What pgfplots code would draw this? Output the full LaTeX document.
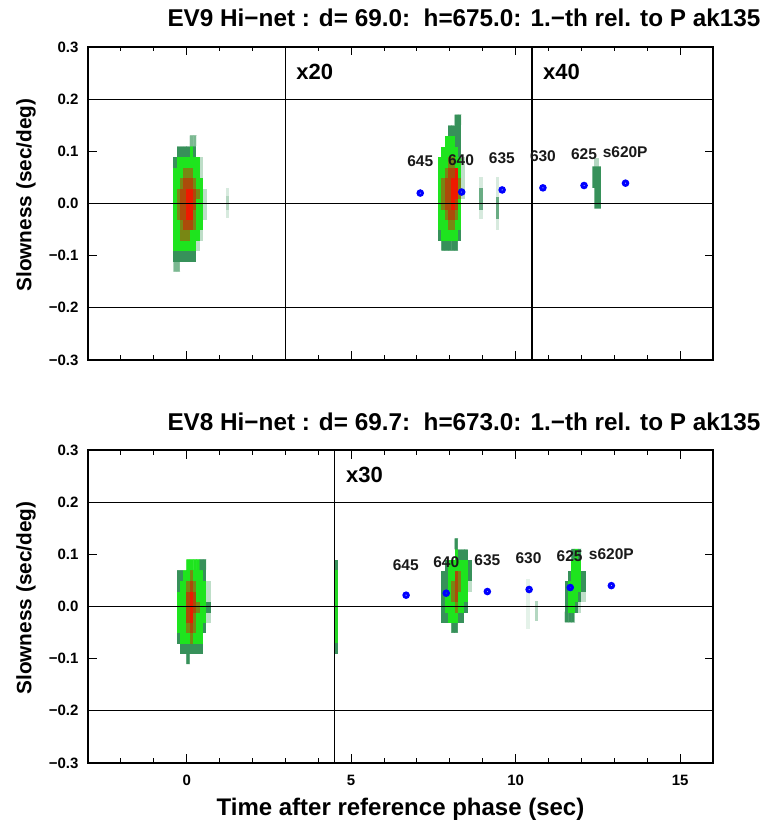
\documentclass[border=0pt]{standalone}
\usepackage{fontspec}
\setmainfont{Liberation Sans}
\usepackage{pgfplots}
\pgfplotsset{compat=1.18}
\definecolor{cpale}{RGB}{180,215,193}
\definecolor{cpaler}{RGB}{215,234,222}
\definecolor{cteal}{RGB}{55,145,90}
\definecolor{cgreen}{RGB}{35,215,35}
\definecolor{cfaint}{RGB}{228,242,233}
\tikzset{
 lbl/.style={font=\bfseries\fontsize{15.5}{15.5}\selectfont, text=black!90, inner sep=0pt},
 xlbl/.style={font=\bfseries\fontsize{22}{22}\selectfont, anchor=west, inner sep=0pt},
}
\pgfplotsset{
 colormap={blob}{rgb255=(255,255,255) rgb255=(190,222,200) rgb255=(55,145,90) rgb255=(30,228,30) rgb255=(120,135,20) rgb255=(172,75,10) rgb255=(238,25,0)},
 panel/.style={
  scale only axis, width=625pt, height=313pt,
  xmin=-3, xmax=16, ymin=-0.3, ymax=0.3,
  axis line style={line width=2.2pt},
  tick align=inside,
  xtick={0,5,10,15},
  minor xtick={-2,-1,1,2,3,4,6,7,8,9,11,12,13,14},
  ytick={-0.3,-0.2,-0.1,0,0.1,0.2,0.3},
  yticklabels={−0.3,−0.2,−0.1,0.0,0.1,0.2,0.3},
  xtick pos=both, ytick pos=both,
  xticklabel pos=lower, yticklabel pos=left,
  major tick length=8.5pt, minor tick length=4.5pt,
  every tick/.append style={black, line width=1pt},
  every minor tick/.append style={black, line width=1pt},
  ticklabel style={font=\bfseries\fontsize{15}{15}\selectfont},
  yticklabel style={xshift=-6pt},
  xticklabel style={anchor=base, yshift=-22pt},
  ylabel={Slowness (sec/deg)},
  every axis y label/.style={at={(axis description cs:-0.099,0.527)}, rotate=90, anchor=center, font=\bfseries\fontsize{20.8}{20.8}\selectfont},
  every axis title/.style={at={(axis description cs:0.6016,1)}, anchor=base, yshift=20pt, font=\bfseries\fontsize{24.3}{24.3}\selectfont},
  colormap name=blob, point meta min=0, point meta max=6,
 },
 dots/.style={blue, only marks, mark=o, mark size=2.2pt, line width=3pt},
}
\begin{document}
\begin{tikzpicture}
\useasboundingbox (0,0) rectangle (770pt,821pt);
% ---------------- top panel ----------------
\begin{axis}[panel, at={(88pt,461pt)}, anchor=south west, xticklabels={},
  title={EV9 Hi−net : d= 69.0:\ \ h=675.0: 1.−th rel. to P ak135}]
\addplot[matrix plot*, mesh/cols=10, point meta=explicit, forget plot] coordinates {
(-0.35,-0.12)[1.5] (-0.25,-0.12)[1.5] (-0.15,-0.12)[0] (-0.05,-0.12)[0] (0.05,-0.12)[0] (0.15,-0.12)[0] (0.25,-0.12)[0] (0.35,-0.12)[0] (0.45,-0.12)[0] (0.55,-0.12)[0]
(-0.35,-0.10)[2] (-0.25,-0.10)[2] (-0.15,-0.10)[2] (-0.05,-0.10)[2] (0.05,-0.10)[2] (0.15,-0.10)[2] (0.25,-0.10)[2] (0.35,-0.10)[0] (0.45,-0.10)[0] (0.55,-0.10)[0]
(-0.35,-0.08)[3] (-0.25,-0.08)[3] (-0.15,-0.08)[3] (-0.05,-0.08)[3] (0.05,-0.08)[3] (0.15,-0.08)[3] (0.25,-0.08)[3] (0.35,-0.08)[1] (0.45,-0.08)[0] (0.55,-0.08)[0]
(-0.35,-0.06)[3] (-0.25,-0.06)[3] (-0.15,-0.06)[4] (-0.05,-0.06)[4] (0.05,-0.06)[4] (0.15,-0.06)[3] (0.25,-0.06)[3] (0.35,-0.06)[3] (0.45,-0.06)[1] (0.55,-0.06)[0]
(-0.35,-0.04)[3] (-0.25,-0.04)[3] (-0.15,-0.04)[4] (-0.05,-0.04)[5] (0.05,-0.04)[5] (0.15,-0.04)[5] (0.25,-0.04)[4] (0.35,-0.04)[3] (0.45,-0.04)[3] (0.55,-0.04)[0]
(-0.35,-0.02)[3] (-0.25,-0.02)[4] (-0.15,-0.02)[5] (-0.05,-0.02)[5] (0.05,-0.02)[6] (0.15,-0.02)[6] (0.25,-0.02)[4] (0.35,-0.02)[3] (0.45,-0.02)[3] (0.55,-0.02)[1]
(-0.35,0.00)[3] (-0.25,0.00)[4] (-0.15,0.00)[5] (-0.05,0.00)[5] (0.05,0.00)[6] (0.15,0.00)[6] (0.25,0.00)[5] (0.35,0.00)[3] (0.45,0.00)[3] (0.55,0.00)[1]
(-0.35,0.02)[3] (-0.25,0.02)[4] (-0.15,0.02)[5] (-0.05,0.02)[5] (0.05,0.02)[6] (0.15,0.02)[6] (0.25,0.02)[5] (0.35,0.02)[4] (0.45,0.02)[3] (0.55,0.02)[1]
(-0.35,0.04)[3] (-0.25,0.04)[3] (-0.15,0.04)[4] (-0.05,0.04)[5] (0.05,0.04)[5] (0.15,0.04)[5] (0.25,0.04)[4] (0.35,0.04)[3] (0.45,0.04)[3] (0.55,0.04)[0]
(-0.35,0.06)[3] (-0.25,0.06)[3] (-0.15,0.06)[3] (-0.05,0.06)[4] (0.05,0.06)[4] (0.15,0.06)[4] (0.25,0.06)[3] (0.35,0.06)[3] (0.45,0.06)[1] (0.55,0.06)[0]
(-0.35,0.08)[2] (-0.25,0.08)[3] (-0.15,0.08)[3] (-0.05,0.08)[3] (0.05,0.08)[3] (0.15,0.08)[3] (0.25,0.08)[3] (0.35,0.08)[3] (0.45,0.08)[1] (0.55,0.08)[0]
(-0.35,0.10)[0] (-0.25,0.10)[2] (-0.15,0.10)[2] (-0.05,0.10)[2] (0.05,0.10)[2] (0.15,0.10)[3] (0.25,0.10)[2] (0.35,0.10)[0] (0.45,0.10)[0] (0.55,0.10)[0]
(-0.35,0.12)[0] (-0.25,0.12)[0] (-0.15,0.12)[0] (-0.05,0.12)[0] (0.05,0.12)[0] (0.15,0.12)[1.5] (0.25,0.12)[1.5] (0.35,0.12)[0] (0.45,0.12)[0] (0.55,0.12)[0]
};
\addplot[matrix plot*, mesh/cols=8, point meta=explicit, forget plot] coordinates {
(7.7,-0.08)[0] (7.8,-0.08)[2] (7.9,-0.08)[2] (8.0,-0.08)[2] (8.1,-0.08)[2] (8.2,-0.08)[2] (8.3,-0.08)[0] (8.4,-0.08)[0]
(7.7,-0.06)[2] (7.8,-0.06)[3] (7.9,-0.06)[3] (8.0,-0.06)[3] (8.1,-0.06)[3] (8.2,-0.06)[3] (8.3,-0.06)[2] (8.4,-0.06)[0]
(7.7,-0.04)[3] (7.8,-0.04)[3] (7.9,-0.04)[3] (8.0,-0.04)[4] (8.1,-0.04)[4] (8.2,-0.04)[3] (8.3,-0.04)[3] (8.4,-0.04)[0]
(7.7,-0.02)[3] (7.8,-0.02)[3] (7.9,-0.02)[4] (8.0,-0.02)[5] (8.1,-0.02)[5] (8.2,-0.02)[4] (8.3,-0.02)[3] (8.4,-0.02)[0]
(7.7,0.00)[3] (7.8,0.00)[4] (7.9,0.00)[5] (8.0,0.00)[5] (8.1,0.00)[6] (8.2,0.00)[5] (8.3,0.00)[3] (8.4,0.00)[0]
(7.7,0.02)[3] (7.8,0.02)[4] (7.9,0.02)[5] (8.0,0.02)[5] (8.1,0.02)[6] (8.2,0.02)[6] (8.3,0.02)[4] (8.4,0.02)[1]
(7.7,0.04)[3] (7.8,0.04)[4] (7.9,0.04)[5] (8.0,0.04)[5] (8.1,0.04)[6] (8.2,0.04)[6] (8.3,0.04)[4] (8.4,0.04)[1]
(7.7,0.06)[3] (7.8,0.06)[3] (7.9,0.06)[4] (8.0,0.06)[5] (8.1,0.06)[5] (8.2,0.06)[6] (8.3,0.06)[3] (8.4,0.06)[1]
(7.7,0.08)[3] (7.8,0.08)[3] (7.9,0.08)[3] (8.0,0.08)[4] (8.1,0.08)[4] (8.2,0.08)[3] (8.3,0.08)[3] (8.4,0.08)[1]
(7.7,0.10)[0] (7.8,0.10)[3] (7.9,0.10)[3] (8.0,0.10)[3] (8.1,0.10)[3] (8.2,0.10)[3] (8.3,0.10)[2] (8.4,0.10)[0]
(7.7,0.12)[0] (7.8,0.12)[0] (7.9,0.12)[3] (8.0,0.12)[3] (8.1,0.12)[3] (8.2,0.12)[2] (8.3,0.12)[2] (8.4,0.12)[0]
(7.7,0.14)[0] (7.8,0.14)[0] (7.9,0.14)[0] (8.0,0.14)[2] (8.1,0.14)[2] (8.2,0.14)[2] (8.3,0.14)[2] (8.4,0.14)[0]
(7.7,0.16)[0] (7.8,0.16)[0] (7.9,0.16)[0] (8.0,0.16)[0] (8.1,0.16)[0] (8.2,0.16)[2] (8.3,0.16)[2] (8.4,0.16)[0]
};
% small faint traces
\addplot[fill=cpaler, draw=none, forget plot] coordinates {(1.2,-0.027) (1.3,-0.027) (1.3,0.03) (1.2,0.03)} --cycle;
\addplot[fill=cpale, draw=none, forget plot] coordinates {(1.2,-0.012) (1.3,-0.012) (1.3,0.015) (1.2,0.015)} --cycle;
\addplot[fill=cpaler, draw=none, forget plot] coordinates {(8.9,-0.03) (9.0,-0.03) (9.0,0.05) (8.9,0.05)} --cycle;
\addplot[fill=cteal!75, draw=none, forget plot] coordinates {(8.9,-0.012) (9.0,-0.012) (9.0,0.03) (8.9,0.03)} --cycle;
\addplot[fill=cpaler, draw=none, forget plot] coordinates {(9.4,-0.05) (9.5,-0.05) (9.5,0.05) (9.4,0.05)} --cycle;
\addplot[fill=cteal!75, draw=none, forget plot] coordinates {(9.4,-0.03) (9.5,-0.03) (9.5,0.012) (9.4,0.012)} --cycle;
\addplot[fill=cpale, draw=none, forget plot] coordinates {(12.38,0.07) (12.52,0.07) (12.52,0.088) (12.38,0.088)} --cycle;
\addplot[fill=cteal, draw=none, forget plot] coordinates {(12.33,0.03) (12.33,0.071) (12.59,0.071) (12.59,-0.01) (12.39,-0.01) (12.39,0.03)} --cycle;
% grid lines
\addplot[black, line width=0.9pt, forget plot] coordinates {(-3,0.2) (16,0.2)};
\addplot[black, line width=0.9pt, forget plot] coordinates {(-3,0) (16,0)};
\addplot[black, line width=0.9pt, forget plot] coordinates {(-3,-0.2) (16,-0.2)};
\addplot[black, line width=1.4pt, forget plot] coordinates {(3,-0.3) (3,0.3)};
\addplot[black, line width=1.4pt, forget plot] coordinates {(10.5,-0.3) (10.5,0.3)};
% phases
\addplot[dots] coordinates {(7.1,0.020) (8.36,0.022) (9.59,0.026) (10.83,0.030) (12.08,0.0345) (13.34,0.039)};
\node[lbl] at (axis cs:7.1,0.081) {645};
\node[lbl] at (axis cs:8.34,0.084) {640};
\node[lbl] at (axis cs:9.58,0.087) {635};
\node[lbl] at (axis cs:10.83,0.090) {630};
\node[lbl] at (axis cs:12.08,0.095) {625};
\node[lbl] at (axis cs:13.33,0.098) {s620P};
\node[xlbl] at (axis cs:3.33,0.253) {x20};
\node[xlbl] at (axis cs:10.83,0.253) {x40};
\end{axis}
% ---------------- bottom panel ----------------
\begin{axis}[panel, at={(88pt,58pt)}, anchor=south west,
  xticklabels={0,5,10,15},
  title={EV8 Hi−net : d= 69.7:\ \ h=673.0: 1.−th rel. to P ak135},
  xlabel={Time after reference phase (sec)},
  every axis x label/.style={at={(axis description cs:0.5,0)}, anchor=base, yshift=-52pt, font=\bfseries\fontsize{24}{24}\selectfont}]
\addplot[matrix plot*, mesh/cols=10, point meta=explicit, forget plot] coordinates {
(-0.25,-0.10)[0] (-0.15,-0.10)[0] (-0.05,-0.10)[0] (0.05,-0.10)[2] (0.15,-0.10)[0] (0.25,-0.10)[0] (0.35,-0.10)[0] (0.45,-0.10)[0] (0.55,-0.10)[0] (0.65,-0.10)[0]
(-0.25,-0.08)[0] (-0.15,-0.08)[2] (-0.05,-0.08)[2] (0.05,-0.08)[2] (0.15,-0.08)[2] (0.25,-0.08)[2] (0.35,-0.08)[2] (0.45,-0.08)[2] (0.55,-0.08)[0] (0.65,-0.08)[0]
(-0.25,-0.06)[2] (-0.15,-0.06)[3] (-0.05,-0.06)[3] (0.05,-0.06)[3] (0.15,-0.06)[4] (0.25,-0.06)[3] (0.35,-0.06)[3] (0.45,-0.06)[3] (0.55,-0.06)[0] (0.65,-0.06)[0]
(-0.25,-0.04)[3] (-0.15,-0.04)[3] (-0.05,-0.04)[3] (0.05,-0.04)[4] (0.15,-0.04)[5] (0.25,-0.04)[4] (0.35,-0.04)[3] (0.45,-0.04)[3] (0.55,-0.04)[2] (0.65,-0.04)[0]
(-0.25,-0.02)[3] (-0.15,-0.02)[3] (-0.05,-0.02)[3] (0.05,-0.02)[5] (0.15,-0.02)[6] (0.25,-0.02)[4] (0.35,-0.02)[3] (0.45,-0.02)[3] (0.55,-0.02)[3] (0.65,-0.02)[1]
(-0.25,0.00)[3] (-0.15,0.00)[3] (-0.05,0.00)[3] (0.05,0.00)[5] (0.15,0.00)[6] (0.25,0.00)[5] (0.35,0.00)[4] (0.45,0.00)[3] (0.55,0.00)[3] (0.65,0.00)[2]
(-0.25,0.02)[3] (-0.15,0.02)[3] (-0.05,0.02)[3] (0.05,0.02)[5] (0.15,0.02)[6] (0.25,0.02)[5] (0.35,0.02)[3] (0.45,0.02)[3] (0.55,0.02)[3] (0.65,0.02)[1]
(-0.25,0.04)[2] (-0.15,0.04)[3] (-0.05,0.04)[3] (0.05,0.04)[4] (0.15,0.04)[5] (0.25,0.04)[4] (0.35,0.04)[3] (0.45,0.04)[3] (0.55,0.04)[3] (0.65,0.04)[1]
(-0.25,0.06)[2] (-0.15,0.06)[2] (-0.05,0.06)[3] (0.05,0.06)[3] (0.15,0.06)[4] (0.25,0.06)[3] (0.35,0.06)[3] (0.45,0.06)[3] (0.55,0.06)[2] (0.65,0.06)[0]
(-0.25,0.08)[0] (-0.15,0.08)[0] (-0.05,0.08)[0] (0.05,0.08)[3] (0.15,0.08)[3] (0.25,0.08)[3] (0.35,0.08)[3] (0.45,0.08)[2] (0.55,0.08)[2] (0.65,0.08)[0]
};
\addplot[matrix plot*, mesh/cols=9, point meta=explicit, forget plot] coordinates {
(7.8,-0.04)[0] (7.9,-0.04)[0] (8.0,-0.04)[0] (8.1,-0.04)[2] (8.2,-0.04)[2] (8.3,-0.04)[0] (8.4,-0.04)[0] (8.5,-0.04)[0] (8.6,-0.04)[0]
(7.8,-0.02)[2] (7.9,-0.02)[2] (8.0,-0.02)[3] (8.1,-0.02)[3] (8.2,-0.02)[3] (8.3,-0.02)[2] (8.4,-0.02)[2] (8.5,-0.02)[0] (8.6,-0.02)[0]
(7.8,0.00)[2] (7.9,0.00)[3] (8.0,0.00)[3] (8.1,0.00)[3] (8.2,0.00)[4] (8.3,0.00)[3] (8.4,0.00)[3] (8.5,0.00)[2] (8.6,0.00)[0]
(7.8,0.02)[2] (7.9,0.02)[3] (8.0,0.02)[3] (8.1,0.02)[4] (8.2,0.02)[5] (8.3,0.02)[3] (8.4,0.02)[3] (8.5,0.02)[3] (8.6,0.02)[0]
(7.8,0.04)[2] (7.9,0.04)[2] (8.0,0.04)[3] (8.1,0.04)[4] (8.2,0.04)[5] (8.3,0.04)[4] (8.4,0.04)[3] (8.5,0.04)[3] (8.6,0.04)[1]
(7.8,0.06)[2] (7.9,0.06)[2] (8.0,0.06)[3] (8.1,0.06)[3] (8.2,0.06)[5] (8.3,0.06)[4] (8.4,0.06)[3] (8.5,0.06)[3] (8.6,0.06)[2]
(7.8,0.08)[0] (7.9,0.08)[2] (8.0,0.08)[3] (8.1,0.08)[3] (8.2,0.08)[3] (8.3,0.08)[3] (8.4,0.08)[3] (8.5,0.08)[3] (8.6,0.08)[2]
(7.8,0.10)[0] (7.9,0.10)[0] (8.0,0.10)[0] (8.1,0.10)[0] (8.2,0.10)[3] (8.3,0.10)[2] (8.4,0.10)[2] (8.5,0.10)[2] (8.6,0.10)[0]
(7.8,0.12)[0] (7.9,0.12)[0] (8.0,0.12)[0] (8.1,0.12)[0] (8.2,0.12)[2] (8.3,0.12)[0] (8.4,0.12)[0] (8.5,0.12)[0] (8.6,0.12)[0]
};
\addplot[matrix plot*, mesh/cols=6, point meta=explicit, forget plot] coordinates {
(11.55,-0.02)[2] (11.65,-0.02)[2] (11.75,-0.02)[2] (11.85,-0.02)[0] (11.95,-0.02)[0] (12.05,-0.02)[0]
(11.55,0.00)[2] (11.65,0.00)[3] (11.75,0.00)[3] (11.85,0.00)[2] (11.95,0.00)[1] (12.05,0.00)[0]
(11.55,0.02)[2] (11.65,0.02)[3] (11.75,0.02)[3] (11.85,0.02)[3] (11.95,0.02)[2] (12.05,0.02)[1]
(11.55,0.04)[2] (11.65,0.04)[3] (11.75,0.04)[3] (11.85,0.04)[3] (11.95,0.04)[3] (12.05,0.04)[2]
(11.55,0.06)[0] (11.65,0.06)[2] (11.75,0.06)[3] (11.85,0.06)[3] (11.95,0.06)[3] (12.05,0.06)[2]
(11.55,0.08)[0] (11.65,0.08)[0] (11.75,0.08)[3] (11.85,0.08)[3] (11.95,0.08)[3] (12.05,0.08)[0]
(11.55,0.10)[0] (11.65,0.10)[0] (11.75,0.10)[2] (11.85,0.10)[3] (11.95,0.10)[2] (12.05,0.10)[0]
};
\addplot[fill=cteal, draw=none, forget plot] coordinates {(4.5,-0.092) (4.6,-0.092) (4.6,0.09) (4.5,0.09)} --cycle;
\addplot[fill=cgreen, draw=none, forget plot] coordinates {(4.5,-0.07) (4.6,-0.07) (4.6,0.07) (4.5,0.07)} --cycle;
\addplot[fill=cfaint, draw=none, forget plot] coordinates {(10.33,-0.044) (10.43,-0.044) (10.43,0.052) (10.33,0.052)} --cycle;
\addplot[fill=cpale, draw=none, forget plot] coordinates {(10.6,-0.028) (10.68,-0.028) (10.68,0.01) (10.6,0.01)} --cycle;
% grid lines
\addplot[black, line width=0.9pt, forget plot] coordinates {(-3,0.2) (16,0.2)};
\addplot[black, line width=0.9pt, forget plot] coordinates {(-3,0) (16,0)};
\addplot[black, line width=0.9pt, forget plot] coordinates {(-3,-0.2) (16,-0.2)};
\addplot[black, line width=1.4pt, forget plot] coordinates {(4.5,-0.3) (4.5,0.3)};
% phases
\addplot[dots] coordinates {(6.67,0.0217) (7.89,0.0255) (9.14,0.0287) (10.41,0.0326) (11.66,0.0364) (12.91,0.040)};
\node[lbl] at (axis cs:6.66,0.080) {645};
\node[lbl] at (axis cs:7.89,0.085) {640};
\node[lbl] at (axis cs:9.14,0.089) {635};
\node[lbl] at (axis cs:10.39,0.093) {630};
\node[lbl] at (axis cs:11.64,0.097) {625};
\node[lbl] at (axis cs:12.91,0.100) {s620P};
\node[xlbl] at (axis cs:4.84,0.253) {x30};
\end{axis}
\end{tikzpicture}
\end{document}
